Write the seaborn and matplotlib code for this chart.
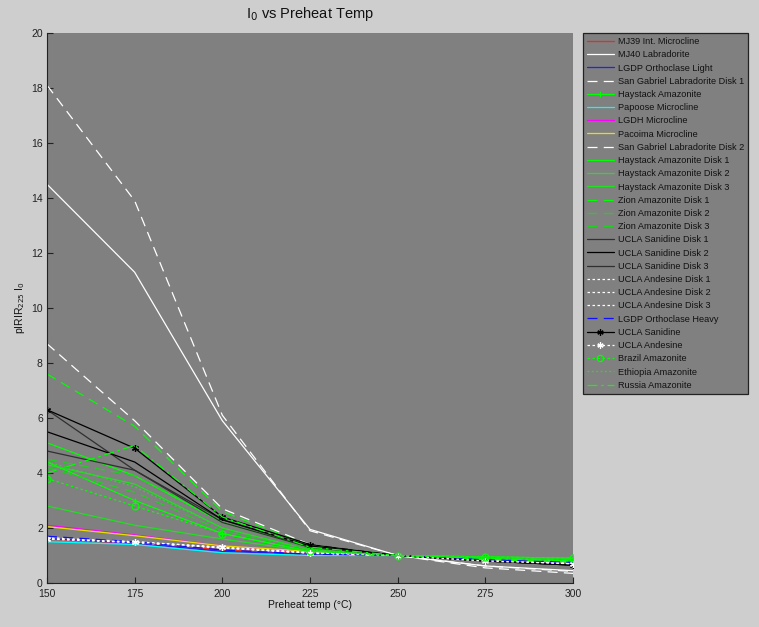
import matplotlib
matplotlib.use("Agg")
import matplotlib.pyplot as plt
import seaborn as sns
import pandas as pd

sns.set_theme(style="white")
plt.rcParams['font.family'] = ['Liberation Sans', 'DejaVu Sans']

temps = [150, 175, 200, 225, 250, 275, 300]

mj39 = [1.60, 1.45, 1.20, 1.05, 1.0, 0.88, 0.78]
mj40 = [14.5, 11.3, 5.9, 1.95, 1.0, 0.62, 0.45]
lgdp_light = [1.62, 1.45, 1.15, 1.05, 1.0, 0.85, 0.75]
sg_disk1 = [18.1, 13.9, 6.1, 1.9, 1.0, 0.55, 0.35]
haystack = [4.4, 3.0, 1.8, 1.15, 1.0, 0.95, 0.90]
papoose = [1.50, 1.40, 1.10, 1.00, 1.0, 0.90, 0.80]
lgdh = [2.10, 1.75, 1.35, 1.12, 1.0, 0.85, 0.75]
pacoima = [2.05, 1.72, 1.35, 1.15, 1.0, 0.86, 0.76]
sg_disk2 = [8.7, 5.9, 2.7, 1.40, 1.0, 0.62, 0.42]
hay_d1 = [5.1, 3.9, 2.2, 1.30, 1.0, 0.90, 0.82]
hay_d2 = [4.3, 3.6, 2.0, 1.20, 1.0, 0.92, 0.86]
hay_d3 = [2.8, 2.1, 1.6, 1.15, 1.0, 0.95, 0.90]
zion_d1 = [7.6, 5.7, 2.6, 1.35, 1.0, 0.86, 0.76]
zion_d2 = [4.5, 3.9, 2.3, 1.30, 1.0, 0.90, 0.80]
zion_d3 = [4.2, 3.3, 1.9, 1.20, 1.0, 0.92, 0.85]
sani_d1 = [6.3, 4.1, 2.3, 1.30, 1.0, 0.80, 0.65]
sani_d2 = [5.5, 4.4, 2.3, 1.35, 1.0, 0.80, 0.65]
sani_d3 = [4.8, 4.1, 2.2, 1.30, 1.0, 0.80, 0.66]
ande_d1 = [1.65, 1.50, 1.30, 1.10, 1.0, 0.80, 0.70]
ande_d2 = [1.62, 1.48, 1.28, 1.10, 1.0, 0.80, 0.70]
ande_d3 = [1.60, 1.47, 1.27, 1.08, 1.0, 0.81, 0.71]
lgdp_heavy = [1.70, 1.50, 1.20, 1.05, 1.0, 0.85, 0.75]
sanidine = [6.3, 4.9, 2.4, 1.40, 1.0, 0.80, 0.65]
andesine = [1.60, 1.50, 1.30, 1.10, 1.0, 0.80, 0.70]
brazil = [3.8, 2.8, 1.8, 1.15, 1.0, 0.95, 0.90]
ethiopia = [4.4, 3.5, 2.0, 1.20, 1.0, 0.92, 0.86]
russia = [4.0, 5.0, 2.4, 1.30, 1.0, 0.90, 0.80]

names = ["MJ39 Int. Microcline", "MJ40 Labradorite", "LGDP Orthoclase Light",
         "San Gabriel Labradorite Disk 1", "Haystack Amazonite", "Papoose Microcline",
         "LGDH Microcline", "Pacoima Microcline", "San Gabriel Labradorite Disk 2",
         "Haystack Amazonite Disk 1", "Haystack Amazonite Disk 2", "Haystack Amazonite Disk 3",
         "Zion Amazonite Disk 1", "Zion Amazonite Disk 2", "Zion Amazonite Disk 3",
         "UCLA Sanidine Disk 1", "UCLA Sanidine Disk 2", "UCLA Sanidine Disk 3",
         "UCLA Andesine Disk 1", "UCLA Andesine Disk 2", "UCLA Andesine Disk 3",
         "LGDP Orthoclase Heavy", "UCLA Sanidine", "UCLA Andesine",
         "Brazil Amazonite", "Ethiopia Amazonite", "Russia Amazonite"]
values = [mj39, mj40, lgdp_light, sg_disk1, haystack, papoose, lgdh, pacoima, sg_disk2,
          hay_d1, hay_d2, hay_d3, zion_d1, zion_d2, zion_d3, sani_d1, sani_d2, sani_d3,
          ande_d1, ande_d2, ande_d3, lgdp_heavy, sanidine, andesine, brazil, ethiopia, russia]

G = '#00ff00'
AST = (6, 2, 0)
styles = [
    dict(color='#ff2020', ls='-', marker=None),
    dict(color='white', ls='-', marker=None),
    dict(color='#2020ff', ls='-', marker=None),
    dict(color='white', ls=(0, (8, 5)), marker=None),
    dict(color=G, ls='-', marker='+'),
    dict(color='cyan', ls='-', marker=None),
    dict(color='magenta', ls='-', marker=None),
    dict(color='#e8e000', ls='-', marker=None),
    dict(color='white', ls=(0, (8, 5)), marker=None),
    dict(color=G, ls='-', marker=None),
    dict(color='#20e020', ls='-', marker=None),
    dict(color='#20e020', ls='-', marker=None),
    dict(color=G, ls=(0, (8, 5)), marker=None),
    dict(color='#20d020', ls=(0, (8, 5)), marker=None),
    dict(color='#20d020', ls=(0, (8, 5)), marker=None),
    dict(color='#303030', ls='-', marker=None),
    dict(color='black', ls='-', marker=None),
    dict(color='#303030', ls='-', marker=None),
    dict(color='white', ls=(0, (2, 2)), marker=None),
    dict(color='white', ls=(0, (2, 2)), marker=None),
    dict(color='white', ls=(0, (2, 2)), marker=None),
    dict(color='#1010ff', ls=(0, (8, 5)), marker=None),
    dict(color='black', ls='-', marker=AST),
    dict(color='white', ls=(0, (2, 2)), marker=AST),
    dict(color=G, ls=(0, (2, 2)), marker='o'),
    dict(color='#20e020', ls=(0, (1.5, 2)), marker=None),
    dict(color=G, ls=(0, (8, 3, 2, 3)), marker=None),
]

rows = []
for n, v in zip(names, values):
    for t, y in zip(temps, v):
        rows.append(dict(series=n, temp=t, val=y))
df = pd.DataFrame(rows)

fig = plt.figure(figsize=(7.59, 6.27), dpi=100, facecolor='#cecece')
ax = fig.add_axes([47/759, 44/627, 526/759, 550/627])
ax.set_facecolor('#808080')

for n, st in zip(names, styles):
    sub = df[df.series == n]
    kw = dict(color=st['color'], linestyle=st['ls'], linewidth=0.9)
    if st['marker'] is not None:
        kw.update(marker=st['marker'], markersize=5,
                  markerfacecolor='none' if st['marker'] == 'o' else st['color'],
                  markeredgecolor=st['color'], markeredgewidth=0.9)
    sns.lineplot(data=sub, x='temp', y='val', ax=ax, label=n, sort=False,
                 estimator=None, **kw)

ax.set_xlim(150, 300)
ax.set_ylim(0, 20)
ax.set_xticks([150, 175, 200, 225, 250, 275, 300])
ax.set_yticks(range(0, 21, 2))
ax.tick_params(direction='in', length=4, width=0.8, labelsize=7.5, colors='#222222',
               bottom=True, left=True, top=False, right=False)
ax.tick_params(axis='x', pad=4)
ax.tick_params(axis='y', pad=3)
for s in ['top', 'right']:
    ax.spines[s].set_visible(False)
for s in ['left', 'bottom']:
    ax.spines[s].set_color('#222222')
    ax.spines[s].set_linewidth(0.8)

ax.set_title(r'I$_0$ vs Preheat Temp', fontsize=10.5, color='#111111', pad=11)
ax.set_xlabel('Preheat temp (°C)', fontsize=7.5, color='#111111', labelpad=1)
ax.set_ylabel(r'pIRIR$_{225}$ I$_0$', fontsize=7.5, color='#111111', labelpad=3)

leg = ax.legend(loc='upper left', bbox_to_anchor=(583/759, 594/627), bbox_transform=fig.transFigure,
                fontsize=6.6, frameon=True, fancybox=False, framealpha=1, facecolor='#808080',
                edgecolor='#222222', handlelength=2.9, handletextpad=0.45, labelspacing=0.46,
                borderpad=0.45, borderaxespad=0, markerscale=0.9)
leg.get_frame().set_linewidth(0.9)
for t in leg.get_texts():
    t.set_color('#111111')

fig.savefig('out.png', dpi=100, facecolor=fig.get_facecolor())
